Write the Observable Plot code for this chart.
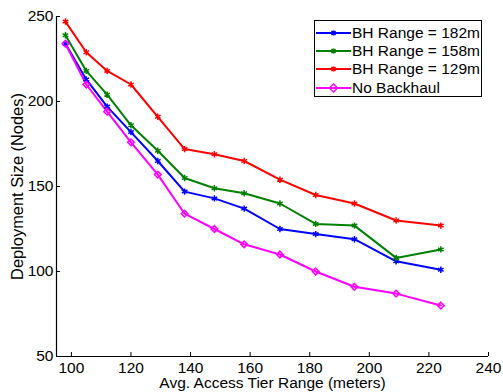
<!DOCTYPE html>
<html>
<head>
<meta charset="utf-8">
<script src="https://cdn.jsdelivr.net/npm/d3@7"></script>
<script src="https://cdn.jsdelivr.net/npm/@observablehq/plot@0.6"></script>
<style>
  html, body { margin: 0; padding: 0; background: #fff; }
  #wrap { position: relative; width: 503px; height: 392px; font-family: "Liberation Sans", Arial, sans-serif; }
  #legend { position: absolute; left: 314px; top: 20px; width: 168px; height: 77px; border: 1px solid #000; background: #fff; box-sizing: border-box; }
  .li { position: absolute; left: 1px; height: 18px; display: flex; align-items: center; font-size: 15.5px; color: #000; white-space: nowrap; }
  .li svg { margin-right: 1px; }
</style>
</head>
<body>
<div id="wrap"></div>
<script>
const xRange = [98, 105, 112, 120, 129, 138, 148, 158, 170, 182, 195, 209, 224];
const bh182 = [234, 213, 197, 182, 165, 147, 143, 137, 125, 122, 119, 106, 101];
const bh158 = [239, 218, 204, 186, 171, 155, 149, 146, 140, 128, 127, 108, 113];
const bh129 = [247, 229, 218, 210, 191, 172, 169, 165, 154, 145, 140, 130, 127];
const noBackhaul = [234, 210, 194, 176, 157, 134, 125, 116, 110, 100, 91, 87, 80];
const seriesNames = ["BH Range = 182m", "BH Range = 158m", "BH Range = 129m", "No Backhaul"];
const seriesColors = ["#0000ff", "#008000", "#ff0000", "#ff00ff"];
const seriesSymbols = ["asterisk", "asterisk", "asterisk", "diamond2"];
const xTicks = [100, 120, 140, 160, 180, 200, 220, 240];
const yTicks = [50, 100, 150, 200, 250];
const xLabel = "Avg. Access Tier Range (meters)";
const yLabel = "Deployment Size (Nodes)";

const allSeries = [bh182, bh158, bh129, noBackhaul];
const rows = [];
allSeries.forEach((vals, s) => vals.forEach((v, i) => rows.push({series: seriesNames[s], x: xRange[i], y: v})));

const W = 503, H = 392, mL = 56, mR = 15, mT = 16, mB = 36;
const pw = W - mL - mR, ph = H - mT - mB;
const font = "Liberation Sans, Arial, sans-serif";
const fs = 15.5;

const chart = Plot.plot({
  width: W, height: H,
  marginLeft: mL, marginRight: mR, marginTop: mT, marginBottom: mB,
  style: {fontFamily: font, fontSize: fs + "px", background: "#fff", color: "#000"},
  x: {domain: [95, 240]},
  y: {domain: [50, 250]},
  color: {domain: seriesNames, range: seriesColors},
  symbol: {domain: seriesNames, range: seriesSymbols},
  marks: [
    Plot.axisX({ticks: xTicks, tickSize: 0, tickPadding: 5, label: null, fontSize: fs}),
    Plot.axisY({ticks: yTicks, tickSize: 0, tickPadding: 3, label: null, fontSize: fs}),
    Plot.tickX(xTicks, {x: d => d, insetTop: ph - 4, stroke: "#000", strokeWidth: 1}),
    Plot.tickY(yTicks, {y: d => d, insetRight: pw - 4, stroke: "#000", strokeWidth: 1}),
    Plot.ruleX([95], {stroke: "#000", strokeWidth: 1.2}),
    Plot.ruleY([50], {stroke: "#000", strokeWidth: 1.2}),
    Plot.line(rows, {x: "x", y: "y", z: "series", stroke: "series", strokeWidth: 2}),
    Plot.dot(rows, {x: "x", y: "y", symbol: "series", stroke: "series", r: 3, strokeWidth: 1.5, fill: "none"}),
    Plot.text([xLabel], {frameAnchor: "bottom", dy: 27, text: d => d, fontSize: fs, textAnchor: "middle", lineAnchor: "middle", fill: "#000"}),
    Plot.text([yLabel], {frameAnchor: "left", dx: -39, rotate: -90, text: d => d, fontSize: 16.4, textAnchor: "middle", lineAnchor: "middle", fill: "#000"})
  ]
});

const wrap = document.getElementById("wrap");
wrap.appendChild(chart);

const legend = document.createElement("div");
legend.id = "legend";
seriesNames.forEach((name, i) => {
  const item = document.createElement("div");
  item.className = "li";
  item.style.top = (2.5 + i * 18.4) + "px";
  const c = seriesColors[i];
  const marker = seriesSymbols[i] === "asterisk"
    ? `<path d="M15.5,7 l4,4 M19.5,7 l-4,4 M17.5,6.5 v5" stroke="${c}" stroke-width="1.5"/>`
    : `<path d="M17.5,5 l4,4 l-4,4 l-4,-4 z" stroke="${c}" stroke-width="1.5" fill="none"/>`;
  item.innerHTML = `<svg width="35" height="18"><line x1="0" y1="9" x2="35" y2="9" stroke="${c}" stroke-width="2"/>${marker}</svg><span>${name}</span>`;
  legend.appendChild(item);
});
wrap.appendChild(legend);
</script>
</body>
</html>
